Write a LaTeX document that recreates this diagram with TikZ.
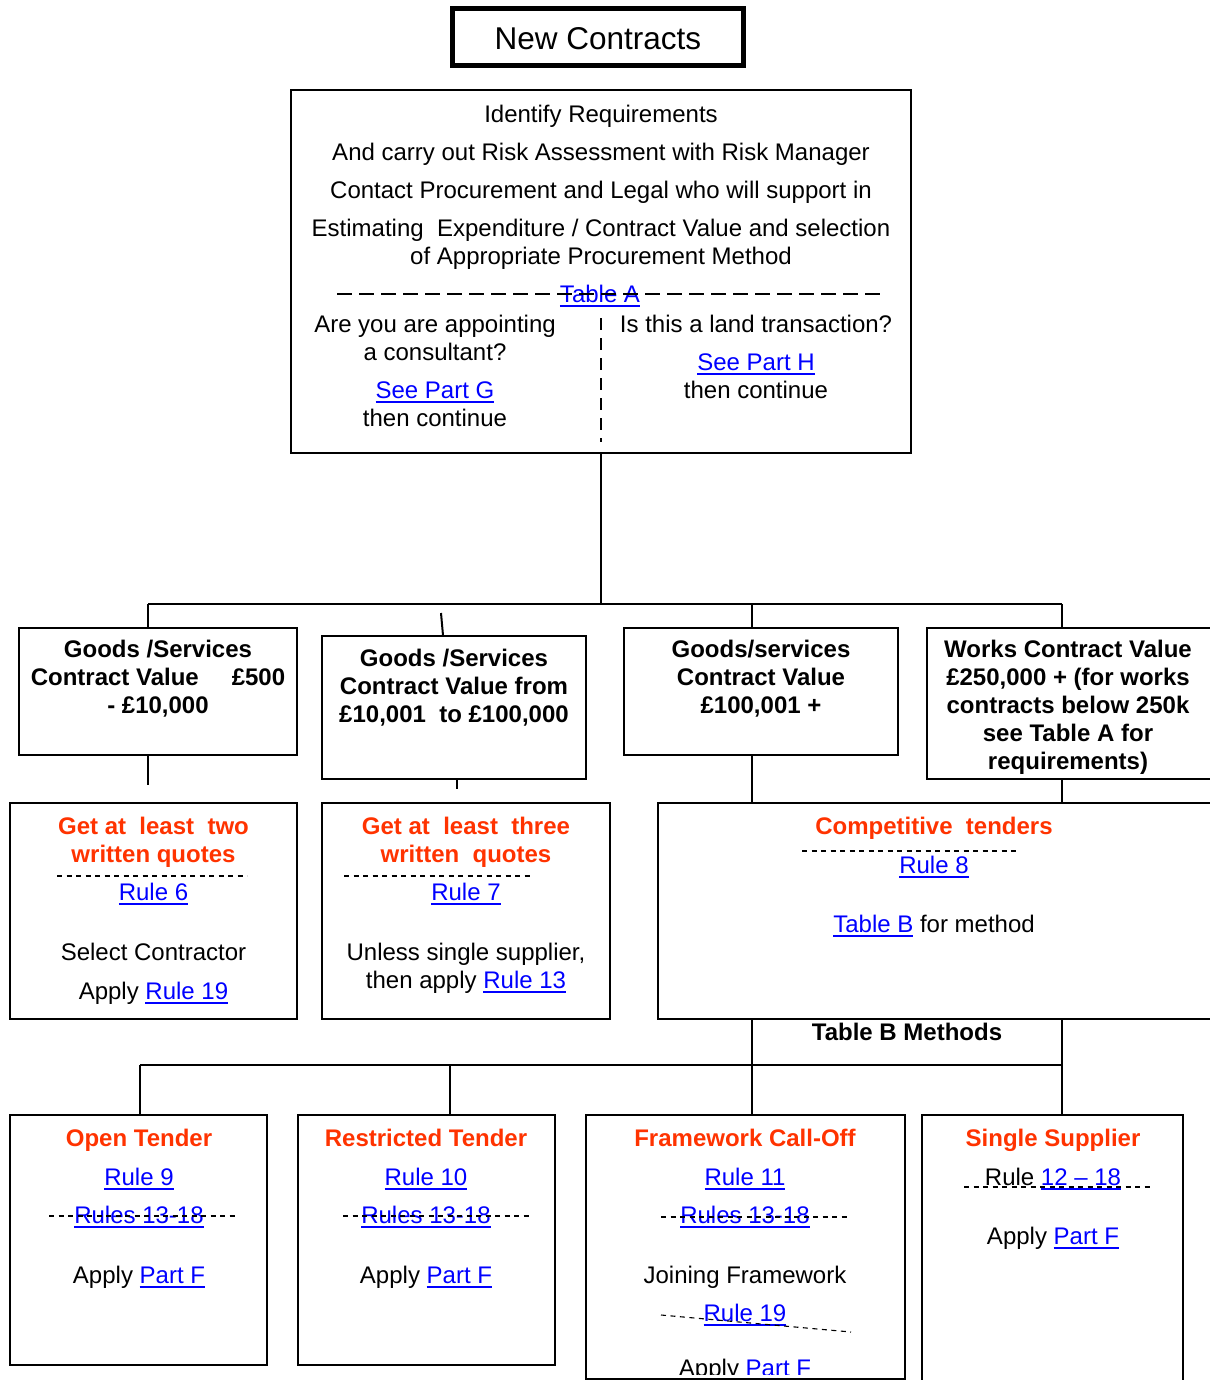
\documentclass[tikz,border=0pt]{standalone}
\usepackage{fontspec}
\setmainfont{Liberation Sans}
\usetikzlibrary{fit}
\definecolor{lb}{RGB}{0,0,255}
\definecolor{rd}{RGB}{255,51,0}
\newcommand\lnk[1]{\textcolor{lb}{\setbox0\hbox{#1}\rlap{\rule[-4.5pt]{\wd0}{1.8pt}}\box0}}
\tikzset{
  x=1pt, y=-1pt,
  box/.style={draw, line width=1.3pt, inner sep=0pt},
  conn/.style={draw, line width=2pt},
  txt/.style={inner sep=0pt, text height=17pt, text depth=0pt, font=\fontsize{24}{28}\selectfont},
  btxt/.style={txt, font=\fontsize{24}{28}\selectfont\bfseries},
  rtxt/.style={btxt, text=rd},
  sdash/.style={line width=1.1pt, dash pattern=on 5pt off 4.5pt},
  ldash/.style={line width=2pt, dash pattern=on 15pt off 7pt},
  vdash/.style={line width=1.5pt, dash pattern=on 12pt off 8pt}
}
\begin{document}
\begin{tikzpicture}
\useasboundingbox[fill=white] (0,0) rectangle (1209,1380);

% title
\node[draw, line width=5pt, inner sep=0pt, fit={(452.5,8.5) (743.5,65.5)}] (title) {};
\node[inner sep=0pt, text height=22.5pt, text depth=0pt, font=\fontsize{31.5}{36}\selectfont] (titletxt) at (598,38.5) {New Contracts};

% top box
\node[box, fit={(291,90) (911,453)}] (top) {};
\node[txt] (t1) at (601,114) {Identify Requirements};
\node[txt] (t2) at (601,152) {And carry out Risk Assessment with Risk Manager};
\node[txt] (t3) at (601,190) {Contact Procurement and Legal who will support in};
\node[txt] (t4) at (601,228) {Estimating\ \ Expenditure / Contract Value and selection};
\node[txt] (t5) at (601,256) {of Appropriate Procurement Method};
\coordinate (daL) at (337,294); \coordinate (daR) at (880,294);
\node[txt] (tA) at (600,294) {\lnk{Table A}};
\draw[ldash] (daL) -- (daR);
\coordinate (vdT) at (601,318); \coordinate (vdB) at (601,442);
\draw[vdash] (vdT) -- (vdB);
\node[txt] (l1) at (435,324) {Are you are appointing};
\node[txt] (l2) at (435,352) {a consultant?};
\node[txt] (l3) at (435,390) {\lnk{See Part G}};
\node[txt] (l4) at (435,418) {then continue};
\node[txt] (r1) at (756,324) {Is this a land transaction?};
\node[txt] (r2) at (756,362) {\lnk{See Part H}};
\node[txt] (r3) at (756,390) {then continue};

% level 1 boxes
\node[box, fit={(19,628) (297,755)}] (b1) {};
\node[box, fit={(322,636) (586,779)}] (b2) {};
\node[box, fit={(624,628) (898,755)}] (b3) {};
\node[box, fit={(927,628) (1215,779)}] (b4) {};
\node[btxt] (b1a) at (158,649) {Goods /Services};
\node[btxt] (b1b) at (158,677) {Contract Value\hspace{33pt}£500};
\node[btxt] (b1c) at (158,705) {- £10,000};
\node[btxt] (b2a) at (454,658) {Goods /Services};
\node[btxt] (b2b) at (454,686) {Contract Value from};
\node[btxt] (b2c) at (454,714) {£10,001\ \ to £100,000};
\node[btxt] (b3a) at (761,649) {Goods/services};
\node[btxt] (b3b) at (761,677) {Contract Value};
\node[btxt] (b3c) at (761,705) {£100,001 +};
\node[btxt] (b4a) at (1068,649) {Works Contract Value};
\node[btxt] (b4b) at (1068,677) {£250,000 + (for works};
\node[btxt] (b4c) at (1068,705) {contracts below 250k};
\node[btxt] (b4d) at (1068,733) {see Table A for};
\node[btxt] (b4e) at (1068,761) {requirements)};

% level 2 boxes
\node[box, fit={(10,803) (297,1019)}] (b5) {};
\node[box, fit={(322,803) (610,1019)}] (b6) {};
\node[box, fit={(658,803) (1215,1019)}] (b7) {};
\node[rtxt] (b5a) at (153.5,826) {Get at\ \ least\ \ two};
\node[rtxt] (b5b) at (153.5,854) {written quotes};
\coordinate (d5L) at (57,876); \coordinate (d5R) at (247,876);
\draw[sdash] (d5L) -- (d5R);
\node[txt] (b5c) at (153.5,892) {\lnk{Rule 6}};
\node[txt] (b5d) at (153.5,952) {Select Contractor};
\node[txt] (b5e) at (153.5,991) {Apply \lnk{Rule 19}};
\node[rtxt] (b6a) at (466,826) {Get at\ \ least\ \ three};
\node[rtxt] (b6b) at (466,854) {written\ \ quotes};
\coordinate (d6L) at (344,876); \coordinate (d6R) at (534,876);
\draw[sdash] (d6L) -- (d6R);
\node[txt] (b6c) at (466,892) {\lnk{Rule 7}};
\node[txt] (b6d) at (466,952) {Unless single supplier,};
\node[txt] (b6e) at (466,980) {then apply \lnk{Rule 13}};
\node[rtxt] (b7a) at (934,826) {Competitive\ \ tenders};
\coordinate (d7L) at (802,851); \coordinate (d7R) at (1017,851);
\draw[sdash] (d7L) -- (d7R);
\node[txt] (b7b) at (934,865) {\lnk{Rule 8}};
\node[txt] (b7c) at (934,924) {\lnk{Table B} for method};
\node[btxt] (tbm) at (907,1032) {Table B Methods};

% level 3 boxes
\node[box, fit={(10,1115) (267,1365)}] (ot) {};
\node[box, fit={(298,1115) (555,1365)}] (rt) {};
\node[box, fit={(586,1115) (905,1379)}] (ft) {};
\node[box, fit={(922,1115) (1183,1395)}] (ss) {};

\node[rtxt] (ota) at (139,1138) {Open Tender};
\node[txt] (otb) at (139,1177) {\lnk{Rule 9}};
\node[txt] (otc) at (139,1215) {\lnk{Rules 13-18}};
\coordinate (doL) at (49,1216); \coordinate (doR) at (238,1216);
\draw[sdash] (doL) -- (doR);
\node[txt] (otd) at (139,1275) {Apply \lnk{Part F}};

\node[rtxt] (rta) at (426,1138) {Restricted Tender};
\node[txt] (rtb) at (426,1177) {\lnk{Rule 10}};
\node[txt] (rtc) at (426,1215) {\lnk{Rules 13-18}};
\coordinate (drL) at (343,1216); \coordinate (drR) at (533,1216);
\draw[sdash] (drL) -- (drR);
\node[txt] (rtd) at (426,1275) {Apply \lnk{Part F}};

\node[rtxt] (fta) at (745,1138) {Framework Call-Off};
\node[txt] (ftb) at (745,1177) {\lnk{Rule 11}};
\node[txt] (ftc) at (745,1215) {\lnk{Rules 13-18}};
\coordinate (dfL) at (661,1217); \coordinate (dfR) at (851,1217);
\draw[sdash] (dfL) -- (dfR);
\node[txt] (ftd) at (745,1275) {Joining Framework};
\node[txt] (fte) at (745,1313) {\lnk{Rule 19}};
\coordinate (dgL) at (661,1315); \coordinate (dgR) at (851,1332);
\draw[sdash] (dgL) -- (dgR);
\begin{scope}
\clip (586,1115) rectangle (905,1374);
\node[txt] (ftf) at (745,1368) {Apply \lnk{Part F}};
\end{scope}

\node[rtxt] (ssa) at (1053,1138) {Single Supplier};
\node[txt] (ssb) at (1053,1177) {Rule \lnk{12 – 18}};
\coordinate (dsL) at (964,1187); \coordinate (dsR) at (1153,1187);
\draw[sdash] (dsL) -- (dsR);
\node[txt] (ssc) at (1053,1236) {Apply \lnk{Part F}};

% connectors level 0 -> 1
\coordinate (busL) at (148,604); \coordinate (busR) at (1062,604);
\coordinate (d3) at (752,604);
\coordinate (s2) at (441,613);
\draw[conn] (top.south) -- (top.south |- busL);
\draw[conn] (busL) -- (busR);
\draw[conn] (busL) -- (busL |- b1.north);
\draw[conn] (s2) -- (b2.north -| 443,0);
\draw[conn] (d3) -- (d3 |- b3.north);
\draw[conn] (busR) -- (busR |- b4.north);

% connectors level 1 -> 2
\coordinate (e1) at (148,785);
\draw[conn] (b1.south -| busL) -- (e1);
\coordinate (e2) at (457,789);
\draw[conn] (b2.south -| e2) -- (e2);
\draw[conn] (b3.south -| d3) -- (b7.north -| d3);
\draw[conn] (b4.south -| busR) -- (b7.north -| busR);

% connectors level 2 -> 3
\coordinate (bus2L) at (140,1065); \coordinate (bus2R) at (1062,1065);
\coordinate (d2) at (450,1065);
\draw[conn] (b7.south -| d3) -- (ft.north -| d3);
\draw[conn] (b7.south -| busR) -- (ss.north -| busR);
\draw[conn] (bus2L) -- (bus2R);
\draw[conn] (bus2L) -- (bus2L |- ot.north);
\draw[conn] (d2) -- (d2 |- rt.north);
\end{tikzpicture}
\end{document}
